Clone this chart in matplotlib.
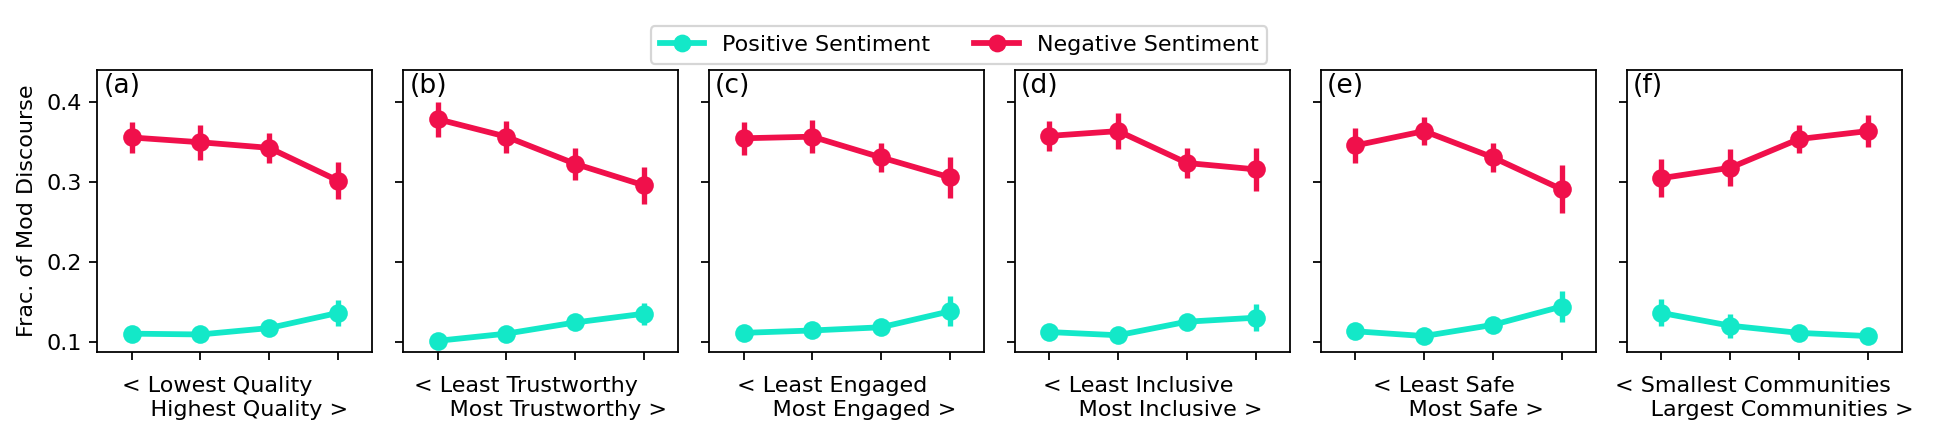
import matplotlib
matplotlib.use("Agg")
import matplotlib.pyplot as plt
from matplotlib.lines import Line2D
import numpy as np

# colours of the two series
pos_color = "#13e8c8"
neg_color = "#f0104b"

panels = ["(a)", "(b)", "(c)", "(d)", "(e)", "(f)"]
xlabels = [
    "< Lowest Quality\n    Highest Quality >",
    "< Least Trustworthy\n     Most Trustworthy >",
    "< Least Engaged\n     Most Engaged >",
    "< Least Inclusive\n     Most Inclusive >",
    "< Least Safe\n     Most Safe >",
    "< Smallest Communities\n     Largest Communities >",
]

# fraction of mod discourse, 4 bins per panel
neg_vals = [
    [0.356, 0.350, 0.343, 0.302],
    [0.379, 0.357, 0.323, 0.296],
    [0.355, 0.357, 0.331, 0.306],
    [0.358, 0.364, 0.324, 0.316],
    [0.346, 0.364, 0.331, 0.291],
    [0.305, 0.318, 0.354, 0.364],
]
neg_err = [
    [0.020, 0.022, 0.019, 0.023],
    [0.022, 0.020, 0.020, 0.023],
    [0.021, 0.021, 0.018, 0.026],
    [0.019, 0.023, 0.019, 0.027],
    [0.022, 0.018, 0.018, 0.030],
    [0.024, 0.023, 0.018, 0.020],
]
pos_vals = [
    [0.110, 0.109, 0.117, 0.136],
    [0.101, 0.110, 0.124, 0.135],
    [0.111, 0.114, 0.118, 0.138],
    [0.112, 0.108, 0.125, 0.130],
    [0.113, 0.107, 0.121, 0.144],
    [0.136, 0.120, 0.111, 0.107],
]
pos_err = [
    [0.006, 0.006, 0.006, 0.016],
    [0.008, 0.007, 0.007, 0.014],
    [0.006, 0.008, 0.006, 0.019],
    [0.006, 0.007, 0.007, 0.017],
    [0.007, 0.006, 0.007, 0.020],
    [0.017, 0.015, 0.007, 0.007],
]

fig, axes = plt.subplots(1, 6, figsize=(1938 / 160, 440 / 160), dpi=160, sharey=True)
fig.subplots_adjust(left=0.0502, right=0.9814, top=0.8398, bottom=0.2, wspace=0.1128)

x = np.arange(4)
for i, ax in enumerate(axes):
    ax.errorbar(x, pos_vals[i], yerr=pos_err[i], color=pos_color, lw=2.6,
                elinewidth=2.4, capsize=0, marker="o", markersize=8.4, mew=0)
    ax.errorbar(x, neg_vals[i], yerr=neg_err[i], color=neg_color, lw=2.6,
                elinewidth=2.4, capsize=0, marker="o", markersize=8.4, mew=0)
    ax.set_xlim(-0.5, 3.5)
    ax.set_xticks(x)
    ax.set_xticklabels(["", "", "", ""])
    ax.set_xlabel(xlabels[i], multialignment="left")
    ax.text(0.022, 0.99, panels[i], transform=ax.transAxes, ha="left", va="top",
            fontsize=12)

axes[0].set_ylim(0.087, 0.440)
axes[0].set_yticks([0.1, 0.2, 0.3, 0.4])
axes[0].set_ylabel("Frac. of Mod Discourse")

# legend: plain line + marker, no error bar in the handle
handles = [
    Line2D([], [], color=pos_color, lw=2.6, marker="o", markersize=8, mew=0),
    Line2D([], [], color=neg_color, lw=2.6, marker="o", markersize=8, mew=0),
]
fig.legend(handles, ["Positive Sentiment", "Negative Sentiment"], loc="upper center",
           ncol=2, bbox_to_anchor=(959 / 1938, 1 - 15 / 440))

plt.savefig("out.png", dpi=160)
